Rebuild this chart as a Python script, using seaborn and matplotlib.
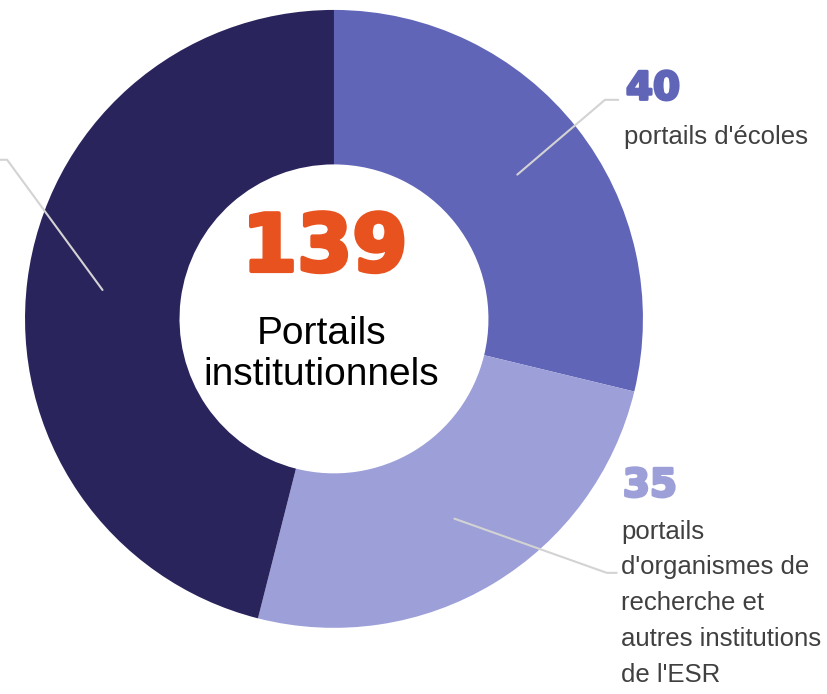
import numpy as np
import seaborn as sns
import matplotlib.pyplot as plt
import matplotlib.patheffects as pe

# data
labels = ["portails d'écoles",
          "portails\nd'organismes de\nrecherche et\nautres institutions\nde l'ESR",
          "autres portails"]
values = [40, 35, 64]
colors = ["#6065B8", "#9C9FD8", "#2A245C"]
total = sum(values)
center_title = "Portails\ninstitutionnels"

sns.set_theme(style="white")
plt.rcParams['font.family'] = ['Liberation Sans', 'DejaVu Sans']

fig = plt.figure(figsize=(8.28, 6.94), dpi=100)
ax = fig.add_axes([0, 0, 1, 1])

wedges, _ = ax.pie(values, colors=colors, startangle=90, counterclock=False,
                   radius=1, wedgeprops=dict(width=0.5, edgecolor="none"))
ax.set_xlim(-1.081, 1.599)
ax.set_ylim(-1.214, 1.032)
ax.axis("off")

# center text
ax.text(-0.03, 0.155, str(total), ha="center", va="baseline", fontsize=57,
        fontweight="bold", color="#E8521E", family="DejaVu Sans",
        path_effects=[pe.withStroke(linewidth=3, foreground="#E8521E")])
ax.text(-0.04, -0.115, center_title, ha="center", va="center", fontsize=28,
        color="black", linespacing=1.2)

# leader lines from wedge middles
elbows = [(0.877, 0.709), (0.883, -0.822), (-1.058, 0.515)]
ends = [0.92, 0.915, -1.09]
for w, (ex, ey), xe in zip(wedges, elbows, ends):
    mid = np.deg2rad((w.theta1 + w.theta2) / 2)
    sx, sy = 0.755 * np.cos(mid), 0.755 * np.sin(mid)
    ax.plot([sx, ex, xe], [sy, ey, ey], color="#D3D3D3", lw=1.5,
            solid_joinstyle="round")

# side labels
num_style = dict(ha="left", va="baseline", fontsize=28, fontweight="bold",
                 family="DejaVu Sans")
ax.text(0.945, 0.710, str(values[0]), color=colors[0],
        path_effects=[pe.withStroke(linewidth=2, foreground=colors[0])],
        **num_style)
ax.text(0.94, 0.59, labels[0], ha="left", va="center", fontsize=18.5,
        color="#404040")
ax.text(0.935, -0.575, str(values[1]), color=colors[1],
        path_effects=[pe.withStroke(linewidth=2, foreground=colors[1])],
        **num_style)
ax.text(0.93, -0.65, labels[1], ha="left", va="top", fontsize=18.5,
        color="#404040", linespacing=1.62)

fig.savefig("out.png", dpi=100)
